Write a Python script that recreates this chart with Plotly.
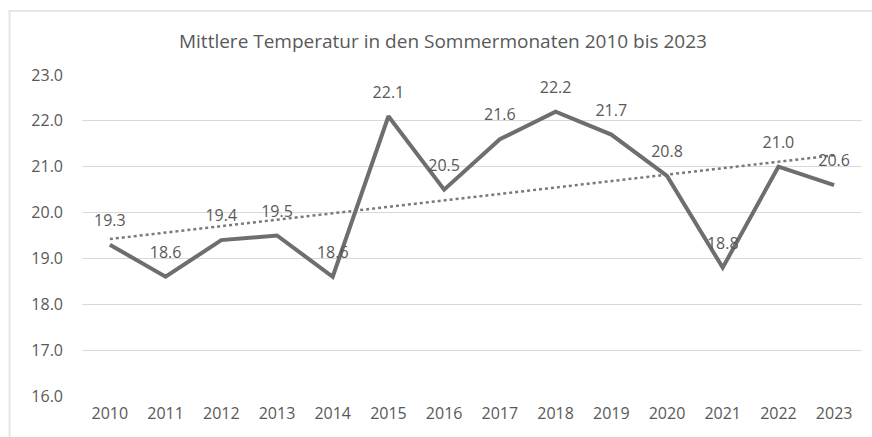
import numpy as np
import plotly.graph_objects as go

years = ["2010", "2011", "2012", "2013", "2014", "2015", "2016", "2017", "2018", "2019", "2020", "2021", "2022", "2023"]
temps = [19.3, 18.6, 19.4, 19.5, 18.6, 22.1, 20.5, 21.6, 22.2, 21.7, 20.8, 18.8, 21.0, 20.6]
title_text = "Mittlere Temperatur in den Sommermonaten 2010 bis 2023"

# linear trend line derived from the data
idx = np.arange(len(temps))
slope, intercept = np.polyfit(idx, temps, 1)
trend = slope * idx + intercept

FONT = "Open Sans"
TXT = "#595959"

fig = go.Figure()
fig.add_trace(go.Scatter(
    x=years, y=trend, mode="lines",
    line=dict(color="#7a7a7a", width=2.5, dash="dot"),
    hoverinfo="skip", showlegend=False,
))
fig.add_trace(go.Scatter(
    x=years, y=temps, mode="lines+markers+text",
    line=dict(color="#6e6e6e", width=4),
    marker=dict(size=22, color="rgba(0,0,0,0)", line=dict(width=0)),
    text=[f"{v:.1f}" for v in temps],
    textposition="top center",
    textfont=dict(family=FONT, size=16, color=TXT),
    cliponaxis=False,
    showlegend=False,
))

fig.update_layout(
    width=872, height=437,
    margin=dict(l=82, r=10, t=75, b=41),
    paper_bgcolor="white", plot_bgcolor="white",
    title=dict(text=title_text, x=0.508, xanchor="center", y=0.905, yanchor="middle",
               font=dict(family=FONT, size=19, color=TXT)),
    font=dict(family=FONT, color=TXT),
    xaxis=dict(type="category", range=[-0.5, 13.5], showgrid=False, showline=False, zeroline=False,
               tickfont=dict(family=FONT, size=16, color=TXT), ticks="",
               ticklabelstandoff=6, automargin=False),
    yaxis=dict(range=[16, 23], dtick=1, tickformat=".1f", showgrid=True,
               gridcolor="#d9d9d9", gridwidth=1, zeroline=False, showline=False,
               tickfont=dict(family=FONT, size=16, color=TXT), ticks="",
               ticklabelstandoff=18, automargin=False),
    shapes=[dict(type="rect", xref="paper", yref="paper",
                 x0=(9.5 - 82) / 780, x1=1.05, y0=-0.2, y1=(437 - 11 - 41) / 321,
                 line=dict(color="#e6e6e6", width=2), fillcolor="rgba(0,0,0,0)", layer="below")],
)

fig.write_html("out.html", config={"displayModeBar": False},
               post_script="document.body.style.margin='0';")
